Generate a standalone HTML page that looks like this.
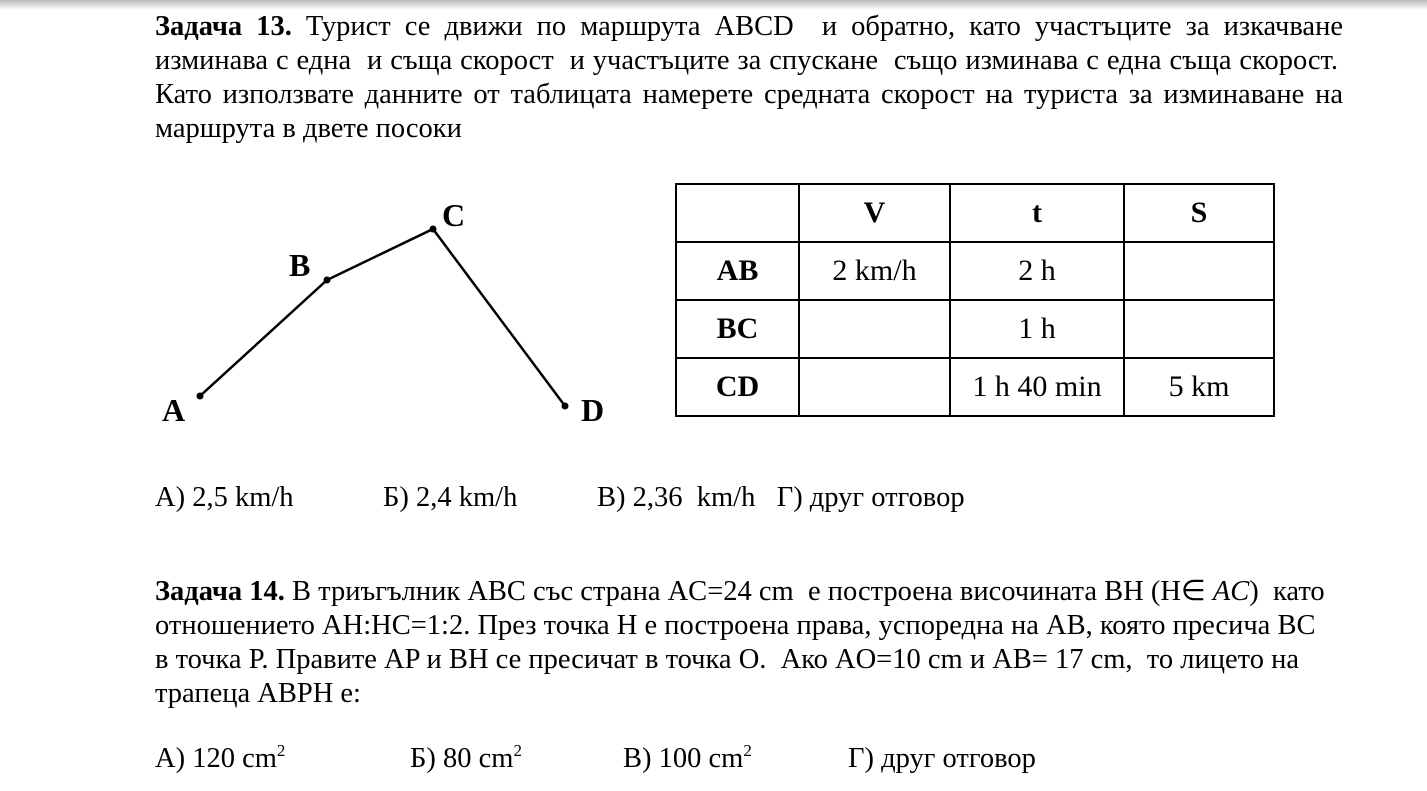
<!DOCTYPE html>
<html><head><meta charset="utf-8"><style>
body{margin:0;width:1427px;height:791px;background:#fff;position:relative;overflow:hidden;font-family:"Liberation Serif","Times New Roman",serif;color:#000;}
.top{position:absolute;left:0;top:0;width:1427px;height:10px;background:linear-gradient(#bbb,#fff);}
.l{position:absolute;left:155px;font-size:28.5px;line-height:34px;white-space:nowrap;}
.j{text-align:justify;text-align-last:justify;white-space:normal;}
table{position:absolute;left:675px;top:183px;border-collapse:collapse;font-size:30px;font-family:"Liberation Serif","Times New Roman",serif;}
td{border:2px solid #000;text-align:center;padding:0;height:56px;}
.a{position:absolute;font-size:28.5px;line-height:34px;white-space:nowrap;}
sup{font-size:17px;vertical-align:11px;line-height:0;}
</style></head><body>
<div class="top"></div>
<div class="l j" style="top:10px;width:1188px"><b>Задача 13.</b> Турист се движи по маршрута ABCD &nbsp;и обратно, като участъците за изкачване</div>
<div class="l j" style="top:44px;width:1183px">изминава с една &nbsp;и съща скорост &nbsp;и участъците за спускане &nbsp;също изминава с една съща скорост.</div>
<div class="l j" style="top:78px;width:1188px">Като използвате данните от таблицата намерете средната скорост на туриста за изминаване на</div>
<div class="l" style="top:112px">маршрута в двете посоки</div>

<svg style="position:absolute;left:0;top:0" width="700" height="450">
<polyline points="200,396 327,280 433,229 565,406" fill="none" stroke="#000" stroke-width="2.5"/>
<circle cx="200" cy="396" r="3.5"/><circle cx="327" cy="280" r="3.5"/><circle cx="433" cy="229" r="3.5"/><circle cx="565" cy="406" r="3.5"/>
<g font-family="Liberation Serif, Times New Roman, serif" font-weight="bold" font-size="32">
<text x="162" y="421">A</text><text x="289" y="276">B</text><text x="442" y="226">C</text><text x="581" y="421">D</text></g>
</svg>

<table>
<tr><td style="width:121px"></td><td style="width:149px"><b>V</b></td><td style="width:172px"><b>t</b></td><td style="width:148px"><b>S</b></td></tr>
<tr><td><b>AB</b></td><td>2 km/h</td><td>2 h</td><td></td></tr>
<tr><td><b>BC</b></td><td></td><td>1 h</td><td></td></tr>
<tr><td><b>CD</b></td><td></td><td>1 h 40 min</td><td>5 km</td></tr>
</table>

<div class="a" style="left:155px;top:481px">A) 2,5 km/h</div>
<div class="a" style="left:383px;top:481px">Б) 2,4 km/h</div>
<div class="a" style="left:597px;top:481px">В) 2,36 &nbsp;km/h &nbsp;&nbsp;Г) друг отговор</div>

<div class="l" style="top:575px"><b>Задача 14.</b> В триъгълник ABC със страна AC=24 cm &nbsp;е построена височината BH (H∈ <i>AC</i>) &nbsp;като</div>
<div class="l" style="top:609px">отношението AH:HC=1:2. През точка H е построена права, успоредна на AB, която пресича BC</div>
<div class="l" style="top:643px">в точка P. Правите AP и BH се пресичат в точка O. &nbsp;Ако AO=10 cm и AB= 17 cm, &nbsp;то лицето на</div>
<div class="l" style="top:677px">трапеца ABPH е:</div>

<div class="a" style="left:155px;top:742px">A) 120 cm<sup>2</sup></div>
<div class="a" style="left:410px;top:742px">Б) 80 cm<sup>2</sup></div>
<div class="a" style="left:623px;top:742px">В) 100 cm<sup>2</sup></div>
<div class="a" style="left:848px;top:742px">Г) друг отговор</div>
</body></html>
